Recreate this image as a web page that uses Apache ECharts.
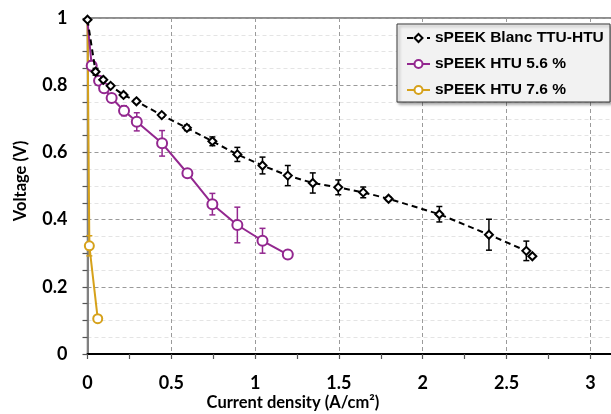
<!DOCTYPE html>
<html>
<head>
<meta charset="utf-8">
<script src="https://cdn.jsdelivr.net/npm/echarts@6/dist/echarts.min.js"></script>
<style>
html,body{margin:0;padding:0;background:#fff;}
#chart{width:611px;height:414px;}
</style>
</head>
<body>
<div id="chart"></div>
<script>
// ---- Data ----
const seriesNames = ['sPEEK Blanc TTU-HTU', 'sPEEK HTU 5.6 %', 'sPEEK HTU 7.6 %'];

const blancX   = [0, 0.048, 0.094, 0.138, 0.215, 0.292, 0.443, 0.593, 0.745, 0.894, 1.044, 1.195, 1.344, 1.496, 1.645, 1.796, 2.099, 2.395, 2.618, 2.654];
const blancY   = [0.995, 0.840, 0.816, 0.798, 0.771, 0.752, 0.711, 0.673, 0.633, 0.594, 0.561, 0.531, 0.509, 0.496, 0.481, 0.462, 0.416, 0.355, 0.307, 0.291];
const blancErr = [0, 0.010, 0.005, 0.005, 0.005, 0.005, 0.005, 0.008, 0.013, 0.021, 0.025, 0.030, 0.030, 0.022, 0.016, 0.005, 0.023, 0.046, 0.029, 0];

const htu56X   = [0, 0.025, 0.069, 0.099, 0.144, 0.218, 0.294, 0.445, 0.596, 0.745, 0.894, 1.044, 1.195];
const htu56Y   = [0.99, 0.858, 0.813, 0.791, 0.762, 0.724, 0.691, 0.627, 0.538, 0.446, 0.384, 0.337, 0.296];
const htu56Err = [0, 0.015, 0.008, 0.005, 0.005, 0.015, 0.027, 0.038, 0.005, 0.032, 0.053, 0.037, 0];

const htu76X   = [0, 0.011, 0.061];
const htu76Y   = [1.0, 0.322, 0.105];
const htu76Err = [0, 0.03, 0];

const xTicks = [0, 0.5, 1, 1.5, 2, 2.5, 3];
const yTicks = [0, 0.2, 0.4, 0.6, 0.8, 1];

// ---- Styling ----
const BLACK = '#000000';
const PURPLE = '#93278f';
const ORANGE = '#d6a11a';
const TICK_FONT = 'Lato';

function pts(xs, ys, hideFirst) {
  return xs.map((x, i) => {
    if (hideFirst && i === 0) return { value: [x, ys[i]], symbolSize: 0 };
    return [x, ys[i]];
  });
}
function errData(xs, ys, es) {
  return xs.map((x, i) => [x, ys[i], es[i]]);
}
function errorSeries(xs, ys, es, color, z) {
  return {
    type: 'custom',
    silent: true,
    z: z,
    data: errData(xs, ys, es),
    encode: { x: 0, y: 1 },
    renderItem: function (params, api) {
      const x = api.value(0), y = api.value(1), e = api.value(2);
      if (!e) return null;
      const top = api.coord([x, y + e]);
      const bot = api.coord([x, y - e]);
      const cap = 3;
      const st = { stroke: color, lineWidth: 1.5 };
      return {
        type: 'group',
        children: [
          { type: 'line', shape: { x1: top[0], y1: top[1], x2: bot[0], y2: bot[1] }, style: st },
          { type: 'line', shape: { x1: top[0] - cap, y1: top[1], x2: top[0] + cap, y2: top[1] }, style: st },
          { type: 'line', shape: { x1: bot[0] - cap, y1: bot[1], x2: bot[0] + cap, y2: bot[1] }, style: st }
        ]
      };
    }
  };
}

const chart = echarts.init(document.getElementById('chart'), null, { renderer: 'canvas' });

const option = {
  animation: false,
  backgroundColor: '#ffffff',
  grid: {
    left: 87.5, top: 18, height: 336, width: 528,
    outerBoundsMode: 'none', containLabel: false,
    show: true, borderColor: '#6a6a6a', borderWidth: 1.5, backgroundColor: 'transparent'
  },
  xAxis: {
    type: 'value', min: 0, max: 3.15, interval: 0.5,
    axisLine: { show: true, onZero: false, lineStyle: { color: '#000', width: 2 } },
    axisTick: { show: true, inside: false, length: 5, lineStyle: { color: '#555', width: 1.2 } },
    minorTick: { show: true, splitNumber: 2, length: 5, lineStyle: { color: '#555', width: 1.2 } },
    axisLabel: {
      margin: 20, color: '#000', fontFamily: TICK_FONT, fontWeight: 'bold', fontSize: 18,
      showMaxLabel: false,
      formatter: function (v) { return xTicks.indexOf(Math.round(v * 100) / 100) >= 0 ? String(v) : ''; }
    },
    splitLine: { show: true, lineStyle: { color: '#9a9a9a', type: [4, 3], width: 1 } },
    minorSplitLine: { show: false }
  },
  yAxis: {
    type: 'value', min: 0, max: 1, interval: 0.2,
    axisLine: { show: true, onZero: false, lineStyle: { color: '#808080', width: 2 } },
    axisTick: { show: true, inside: false, length: 5, lineStyle: { color: '#555', width: 1.2 } },
    minorTick: { show: true, splitNumber: 4, length: 5, lineStyle: { color: '#555', width: 1.2 } },
    axisLabel: {
      margin: 20, color: '#000', fontFamily: TICK_FONT, fontWeight: 'bold', fontSize: 18,
      formatter: function (v) { return yTicks.indexOf(Math.round(v * 100) / 100) >= 0 ? String(v) : ''; }
    },
    splitLine: { show: true, lineStyle: { color: '#9a9a9a', type: [4, 3], width: 1 } },
    minorSplitLine: { show: true, lineStyle: { color: '#e4e4e4', type: [4, 3], width: 1 } }
  },
  legend: {
    orient: 'vertical',
    left: 406, top: 30, padding: 0,
    itemWidth: 23, itemHeight: 10, itemGap: 10,
    data: seriesNames,
    textStyle: { fontFamily: 'Liberation Sans', fontWeight: 'bold', fontSize: 15.5, color: '#000', lineHeight: 16 },
    z: 20
  },
  graphic: [
    {
      type: 'rect', z: 15, silent: true,
      shape: { x: 397, y: 24, width: 213, height: 78 },
      style: { fill: '#f2f2f2', stroke: '#3a3a3a', lineWidth: 1, shadowBlur: 3, shadowOffsetX: 2, shadowOffsetY: 2, shadowColor: 'rgba(0,0,0,0.35)' }
    },
    {
      type: 'text', z: 15, silent: true, x: 293, y: 403,
      style: { text: 'Current density (A/cm²)', font: 'bold 16.5px Lato', fill: '#000', align: 'center', verticalAlign: 'middle' }
    },
    {
      type: 'text', z: 15, silent: true, x: 21, y: 181, rotation: Math.PI / 2,
      style: { text: 'Voltage (V)', font: 'bold 16.5px Lato', fill: '#000', align: 'center', verticalAlign: 'middle' }
    }
  ],
  series: [
    errorSeries(htu76X, htu76Y, htu76Err, ORANGE, 3),
    {
      name: seriesNames[2], type: 'line', z: 4,
      data: pts(htu76X, htu76Y, true),
      symbol: 'emptyCircle', symbolSize: 9,
      lineStyle: { color: ORANGE, width: 2 },
      itemStyle: { color: ORANGE, borderWidth: 1.5 }
    },
    errorSeries(htu56X, htu56Y, htu56Err, PURPLE, 5),
    {
      name: seriesNames[1], type: 'line', z: 6,
      data: pts(htu56X, htu56Y, true),
      symbol: 'emptyCircle', symbolSize: 10,
      lineStyle: { color: PURPLE, width: 2 },
      itemStyle: { color: PURPLE, borderWidth: 1.5 }
    },
    errorSeries(blancX, blancY, blancErr, BLACK, 7),
    {
      name: seriesNames[0], type: 'line', z: 8,
      data: pts(blancX, blancY, false),
      symbol: 'emptyDiamond', symbolSize: 8,
      lineStyle: { color: BLACK, width: 2, type: [6, 4] },
      itemStyle: { color: BLACK, borderWidth: 1.5 }
    }
  ]
};
chart.setOption(option);
</script>
</body>
</html>
